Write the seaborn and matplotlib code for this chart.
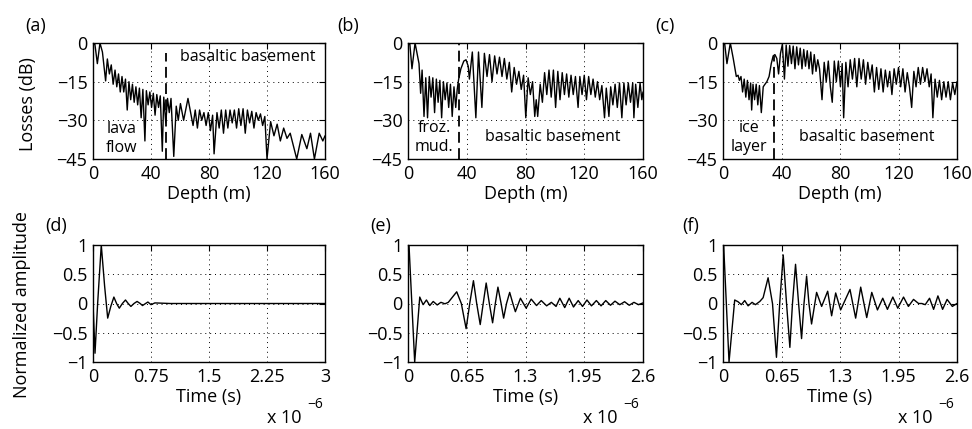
"""Losses vs depth and normalized impulse responses, six panels."""

import matplotlib

matplotlib.use("Agg")
import matplotlib.pyplot as plt
import numpy as np
import pandas as pd
import seaborn as sns

# ---- data ----
# (a) lava flow over basaltic basement: alternating lobe peaks / nulls
depth_a = [0, 1.2, 3, 4.8, 6.5, 8.7, 9.9, 11.3, 12.6, 13.9, 15.2, 16.4, 17.6, 18.8, 20.0,
           21.2, 22.4, 23.6, 24.8, 26.0, 27.2, 28.4, 29.6, 30.8, 32.0, 33.2, 34.4, 35.8,
           36.8, 38.0, 39.2, 40.4, 41.6, 42.8, 44.0, 45.2, 46.4, 47.8, 48.8, 50.2, 51.4,
           52.6, 53.8, 55.7, 57.4, 58.8, 60.3, 62.5, 65.5, 69.0, 70.5, 72.0, 73.5, 75.0,
           76.5, 78.0, 79.5, 81.0, 82.5, 83.5, 85.5, 87.0, 88.5, 90.0, 91.5, 93.0, 94.5,
           96.0, 97.5, 99.0, 100.5, 102.0, 103.5, 105.0, 106.5, 108.0, 109.5, 111.0,
           112.5, 114.0, 115.5, 117.0, 118.5, 120.0, 122.5, 124.8, 127.0, 129.2, 131.5,
           133.8, 136.0, 140.5, 144.0, 147.5, 150.0, 152.7, 156.0, 158.5, 160.0]
loss_a = [-1, 0, -8, 0, -3.5, -14.7, -6.2, -12, -8.5, -16, -10.5, -17, -12, -19, -13,
          -19, -14, -26, -15, -22, -16, -23, -17, -24, -17.5, -29, -18, -38,
          -18.5, -24, -19, -25, -19.5, -28, -20, -25, -20.5, -42, -21, -31, -21.5,
          -27, -21.5, -44, -24.5, -30, -23.5, -30, -21.5, -32, -26, -33, -26, -30,
          -27, -32, -27, -34, -28, -43, -27, -33, -26, -35, -26, -33, -26,
          -31, -26, -33, -25.5, -32, -25.5, -35, -26, -31, -26.5, -33,
          -27, -30, -27.5, -32, -28.5, -45, -30.5, -36, -31.5, -38, -33,
          -37, -35, -45, -35.5, -41, -35, -45, -35, -38, -36]

# (b) frozen mud over basaltic basement
depth_b = [0, 1.2, 2.7, 4.8, 7.5, 8.6, 9.6, 10.9, 12.1, 13.3, 14.5, 15.7, 16.9, 18.1,
           19.3, 20.5, 21.7, 22.9, 24.1, 25.3, 26.5, 27.7, 28.9, 30.1, 31.3, 32.5, 33.5,
           34.5, 36.0, 38.0, 39.5, 41.0, 41.8, 43.8, 46.2, 48.0, 50.3, 52.0, 53.8, 55.5,
           57.2, 59.0, 60.6, 62.3, 64.0, 65.6, 67.3, 69.0, 70.6, 72.3, 73.9, 75.5, 77.1,
           78.7, 80.2, 81.8, 83.3, 84.8, 86.3, 87.3, 88.3, 90.0, 91.5, 93.0, 94.5, 96.0,
           97.5, 99.0, 100.5, 102.0, 103.5, 105.0, 106.5, 108.0, 109.5, 111.0, 112.5,
           114.0, 115.8, 117.0, 118.5, 120.0, 121.5, 123.0, 124.5, 126.0, 127.5, 129.0,
           130.5, 132.0, 133.8, 135.0, 136.8, 138.0, 139.5, 141.0, 142.5, 144.0, 145.6,
           147.0, 148.5, 150.0, 151.5, 153.0, 153.8, 155.0, 156.5, 158.0, 159.2, 160.0]
loss_b = [-1, 0, -10, 0, -8, -19.5, -10.5, -28.5, -13.5, -29, -13, -21, -13.5, -27,
          -14, -23, -14.5, -29, -15, -22, -15.5, -25, -16, -28.5, -17, -25, -18,
          -14, -10, -7, -6.5, -9, -14, -3.5, -29, -3.5, -25, -4, -13, -4.5,
          -15, -5, -12, -5.5, -13, -6, -14, -7.5, -19, -9.5, -16, -11, -18,
          -12.5, -29, -13.5, -20, -15, -28.5, -22, -28.5, -16, -23, -11.5, -20, -10.5,
          -21, -10.5, -25, -11, -22, -11.5, -20, -12, -21, -12.5, -20,
          -13, -25, -13, -20, -12.5, -22, -13, -20, -14, -21, -15,
          -22, -16.5, -29, -17.5, -28.5, -17, -24, -16, -25, -15.5, -29,
          -15.5, -24, -15.5, -23, -15.5, -29, -16, -25, -15.5, -22, -19]

# (c) ice layer over basaltic basement
depth_c = [0, 1.1, 2.7, 5.0, 7.0, 9.1, 10.3, 11.2, 12.3, 13.4, 14.5, 15.6, 16.7, 17.8,
           18.9, 19.6, 20.5, 21.6, 22.7, 23.8, 24.9, 26.2, 27.5, 28.7, 30.0, 31.5, 33.0,
           34.3, 35.5, 36.8, 38.0, 39.3, 40.6, 42.0, 43.2, 44.4, 45.6, 46.8, 48.0, 49.2,
           50.4, 51.6, 52.8, 54.0, 55.2, 56.4, 57.6, 58.8, 60.0, 61.2, 62.4, 63.6, 64.8,
           66.0, 67.7, 69.2, 70.6, 72.0, 73.4, 74.7, 76.1, 77.5, 78.9, 80.3, 81.5, 82.5,
           84.0, 85.5, 87.0, 88.5, 90.0, 91.5, 93.0, 94.5, 96.0, 97.5, 99.0, 100.5,
           102.0, 103.5, 105.0, 106.5, 108.0, 109.5, 111.0, 112.5, 114.0, 115.5, 117.0,
           118.5, 120.0, 121.5, 123.0, 124.5, 126.0, 127.5, 129.0, 130.5, 132.0, 133.5,
           135.0, 136.5, 138.0, 139.5, 141.0, 142.3, 143.5, 145.0, 146.5, 148.0, 149.5,
           151.0, 152.5, 154.0, 155.5, 157.0, 158.5, 160.0]
loss_c = [-1, 0, -8, 0, -6, -13, -12.5, -14.5, -13, -19, -14, -21, -14.5, -22,
          -15.5, -26, -16, -22, -16, -24, -16.5, -27, -17, -16, -15, -13, -8,
          -5, -4.5, -6, -12, -4, -0.5, -14, -0.8, -9, -1, -8, -1.2, -10,
          -1.5, -8.5, -2, -10, -2.5, -9, -3, -10, -3.5, -12, -4.5, -11, -6.5,
          -10, -22, -7.5, -15, -7, -17, -23, -7, -15, -7, -17, -8, -29,
          -7.5, -17, -6.5, -14, -6, -17, -6, -14, -6.5, -16, -7.5, -14,
          -8.5, -19, -9.5, -18, -10, -19, -10.5, -17, -11, -20, -10,
          -16, -9.5, -17, -10, -19, -11.5, -17, -25, -11, -17, -9.5,
          -16, -9.5, -15, -10, -17, -12, -29, -14, -21, -14.5, -22,
          -15, -21, -15, -22, -15.5, -20, -15]

# (d)-(f) normalized amplitude vs time (x 1e-6 s)
time_d = [0, 0.026, 0.06, 0.107, 0.15, 0.19, 0.23, 0.27, 0.305, 0.34, 0.38, 0.42, 0.455,
          0.49, 0.53, 0.57, 0.61, 0.64, 0.68, 0.71, 0.75, 0.8, 1.0, 3.0]
amp_d = [0, -0.85, 0.0, 1.0, 0.3, -0.25, -0.05, 0.11, 0.0, -0.08, 0.0, 0.06, 0.0,
         -0.05, 0.0, 0.035, 0.0, -0.035, 0.0, 0.025, -0.02, 0.01, 0.0, 0.0]

time_e = [0, 0.011, 0.074, 0.13, 0.167, 0.204, 0.241, 0.279, 0.323, 0.364, 0.409, 0.446,
          0.539, 0.59, 0.643, 0.683, 0.724, 0.76, 0.799, 0.832, 0.865, 0.9, 0.936, 0.966,
          0.995, 1.03, 1.058, 1.09, 1.125, 1.16, 1.188, 1.244, 1.307, 1.363, 1.422,
          1.474, 1.534, 1.586, 1.638, 1.68, 1.734, 1.783, 1.831, 1.883, 1.931, 1.98,
          2.03, 2.084, 2.136, 2.188, 2.24, 2.29, 2.343, 2.396, 2.448, 2.5, 2.55, 2.6]
amp_e = [1.0, 1.0, -1.0, 0.11, -0.02, 0.06, -0.035, 0.035, -0.025, 0.02, -0.005, 0.02,
         0.2, 0.0, -0.43, 0.0, 0.39, 0.0, -0.36, 0.0, 0.35, 0.0, -0.33, 0.0,
         0.28, 0.0, -0.25, 0.0, 0.19, 0.0, -0.14, 0.09, -0.08, 0.075, -0.035,
         0.05, -0.04, 0.02, -0.05, 0.09, -0.07, 0.09, -0.06, 0.05, -0.05, 0.06,
         -0.04, 0.05, -0.04, 0.05, -0.03, 0.04, -0.02, 0.03, -0.03, 0.02, -0.02, 0.01]

time_f = [0, 0.007, 0.067, 0.13, 0.167, 0.204, 0.241, 0.279, 0.323, 0.36, 0.409, 0.446,
          0.501, 0.55, 0.594, 0.63, 0.669, 0.706, 0.743, 0.772, 0.806, 0.84, 0.873, 0.9,
          0.929, 0.955, 0.984, 1.04, 1.096, 1.163, 1.207, 1.252, 1.307, 1.411, 1.474,
          1.53, 1.597, 1.653, 1.716, 1.775, 1.827, 1.887, 1.942, 2.006, 2.06, 2.117,
          2.173, 2.21, 2.247, 2.295, 2.34, 2.388, 2.44, 2.49, 2.548, 2.6]
amp_f = [1.0, 1.0, -1.0, 0.06, 0.03, -0.02, 0.05, -0.04, 0.02, -0.02, 0.035, 0.1,
         0.44, 0.0, -0.92, 0.0, 0.83, 0.0, -0.75, 0.0, 0.67, 0.0, -0.6, 0.0,
         0.47, 0.0, -0.35, 0.19, -0.05, 0.21, -0.21, 0.18, -0.11, 0.24, -0.25,
         0.28, -0.24, 0.19, -0.11, 0.09, -0.1, 0.11, -0.08, 0.11, -0.05, 0.07,
         0.0, 0.0, -0.02, 0.09, -0.1, 0.13, -0.1, 0.07, -0.05, 0.0]

depth_ticks = [0, 40, 80, 120, 160]
loss_ticks = [0, -15, -30, -45]
amp_ticks = [1, 0.5, 0, -0.5, -1]
time_ticks_d = [0, 0.75, 1.5, 2.25, 3]
time_ticks_ef = [0, 0.65, 1.3, 1.95, 2.6]

sns.set_style("white")
plt.rcParams["font.family"] = ["Open Sans", "DejaVu Sans"]
plt.rcParams["font.size"] = 13
plt.rcParams["text.color"] = "black"

FS = 13
W, H = 972, 429


def px_box(left, top, right, bottom):
    return [left / W, 1 - bottom / H, (right - left) / W, (bottom - top) / H]


def style_axis(ax, xlim, ylim, xticks, yticks, xticklabels=None, yticklabels=None):
    ax.set_xlim(*xlim)
    ax.set_ylim(*ylim)
    ax.set_xticks(xticks)
    ax.set_yticks(yticks)
    if xticklabels is not None:
        ax.set_xticklabels(xticklabels)
    if yticklabels is not None:
        ax.set_yticklabels(yticklabels)
    ax.grid(True, linestyle=(0, (1, 4)), color="black", linewidth=0.7)
    ax.tick_params(direction="in", length=4, width=0.8, top=True, right=True,
                   labelsize=FS, colors="black", pad=4)
    for spine in ax.spines.values():
        spine.set_color("black")
        spine.set_linewidth(1.0)
    ax.set_xlabel("")
    ax.set_ylabel("")


def draw_curve(ax, x, y):
    df = pd.DataFrame({"x": x, "y": y})
    sns.lineplot(data=df, x="x", y="y", ax=ax, color="black", linewidth=1.0,
                 estimator=None, sort=False)


fig = plt.figure(figsize=(W / 100, H / 100), dpi=100)

top_boxes = [(93, 43, 325, 159), (408, 43, 643, 159), (723, 43, 957, 159)]
bot_boxes = [(93, 245, 325, 362), (408, 245, 643, 362), (723, 245, 957, 362)]

ax_a, ax_b, ax_c = [fig.add_axes(px_box(*b)) for b in top_boxes]
ax_d, ax_e, ax_f = [fig.add_axes(px_box(*b)) for b in bot_boxes]

loss_labels = ["0", "\u221215", "\u221230", "\u221245"]
for ax, (x, y) in zip([ax_a, ax_b, ax_c], [(depth_a, loss_a), (depth_b, loss_b), (depth_c, loss_c)]):
    draw_curve(ax, x, y)
    style_axis(ax, (0, 160), (-45, 0), depth_ticks, loss_ticks, yticklabels=loss_labels)
    ax.set_xlabel("Depth (m)", fontsize=FS, labelpad=2, color="black")

# interface markers
ax_a.plot([50, 50], [-45, -4], color="black", linestyle=(0, (6, 3)), linewidth=1.3)
ax_b.plot([35, 35], [-45, 0], color="black", linestyle=(0, (6, 3)), linewidth=1.3)
ax_c.plot([35, 35], [-45, -5], color="black", linestyle=(0, (6, 3)), linewidth=1.3)

ANN = 11.5
ax_a.text(60, -5.5, "basaltic basement", fontsize=ANN, va="center", ha="left")
ax_a.text(20, -37, "lava\nflow", fontsize=ANN, va="center", ha="center", linespacing=1.25)
ax_b.text(18, -36.5, "froz.\nmud.", fontsize=ANN, va="center", ha="center", linespacing=1.25)
ax_b.text(98.5, -36.3, "basaltic basement", fontsize=ANN, va="center", ha="center")
ax_c.text(18, -36.5, "ice\nlayer", fontsize=ANN, va="center", ha="center", linespacing=1.25)
ax_c.text(98.5, -36.3, "basaltic basement", fontsize=ANN, va="center", ha="center")

amp_labels = ["1", "0.5", "0", "\u22120.5", "\u22121"]
panels = [
    (ax_d, time_d, amp_d, (0, 3), time_ticks_d, ["0", "0.75", "1.5", "2.25", "3"], 267),
    (ax_e, time_e, amp_e, (0, 2.6), time_ticks_ef, ["0", "0.65", "1.3", "1.95", "2.6"], 583),
    (ax_f, time_f, amp_f, (0, 2.6), time_ticks_ef, ["0", "0.65", "1.3", "1.95", "2.6"], 898),
]
for ax, x, y, xlim, xt, xtl, xpx in panels:
    draw_curve(ax, x, y)
    style_axis(ax, xlim, (-1, 1), xt, amp_ticks, xticklabels=xtl, yticklabels=amp_labels)
    ax.set_xlabel("Time (s)", fontsize=FS, labelpad=2, color="black")
    fig.text(xpx / W, 1 - 418 / H, "x 10", fontsize=FS, ha="left", va="center")
    fig.text((xpx + 40) / W, 1 - 404 / H, "\u22126", fontsize=10, ha="left", va="center")

fig.text(28 / W, 1 - 104 / H, "Losses (dB)", rotation=90, fontsize=FS, ha="center", va="center")
fig.text(22 / W, 1 - 305 / H, "Normalized amplitude", rotation=90, fontsize=FS,
         ha="center", va="center")

for lab, (xp, yp) in zip(["(a)", "(b)", "(c)", "(d)", "(e)", "(f)"],
                         [(25, 26), (337, 26), (655, 26), (45, 226), (370, 226), (682, 226)]):
    fig.text(xp / W, 1 - yp / H, lab, fontsize=FS, ha="left", va="center")

fig.savefig("out.png", dpi=100)
